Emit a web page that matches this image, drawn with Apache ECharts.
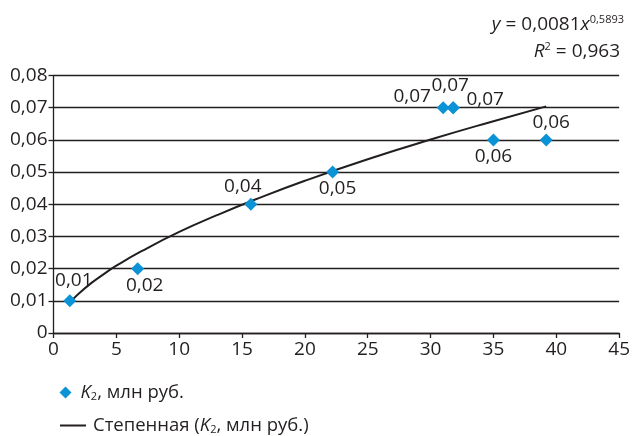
<!DOCTYPE html>
<html>
<head>
<meta charset="utf-8">
<script src="https://cdn.jsdelivr.net/npm/echarts@6/dist/echarts.min.js"></script>
<style>
    html, body { margin: 0; padding: 0; background: #fff; }
    #chart { width: 633px; height: 436px; }
</style>
</head>
<body>
<div id="chart"></div>
<script>
// points K2, mln rub (x) vs coefficient (y)
var pointX = [1.3, 6.7, 15.7, 22.2, 31.0, 31.8, 31.8, 35.0, 39.2];
var pointY = [0.01, 0.02, 0.04, 0.05, 0.07, 0.07, 0.07, 0.06, 0.06];
// trend curve
var trendX = [1.3, 2, 3, 4, 5, 7, 10, 13, 16, 20, 25, 30, 35, 39.2];
var trendY = [0.0095, 0.0122, 0.0155, 0.0183, 0.0209, 0.0254, 0.0314, 0.0366, 0.0414, 0.0473, 0.0540, 0.0601, 0.0658, 0.0704];
var xTicks = [0, 5, 10, 15, 20, 25, 30, 35, 40, 45];
var yTicks = [0, 0.01, 0.02, 0.03, 0.04, 0.05, 0.06, 0.07, 0.08];

// label placement for each point (offset from the marker centre)
var labelShift = [[4, -20], [7, 17], [-8, -18], [5, 17], [-31, -11], [-3, -22], [32, -8], [0, 17], [5, -17]];

var font = '"Open Sans", "Noto Sans", sans-serif';
var ink = '#231f20';
var blue = '#0b93d6';
var nameScatter = 'K2, млн руб.';
var nameTrend = 'Степенная (K2, млн руб.)';

function comma(v) {
    return v === 0 ? '0' : v.toFixed(2).replace('.', ',');
}

var scatterData = [], trendData = [], i;
for (i = 0; i < pointX.length; i++) {
    scatterData.push({
        value: [pointX[i], pointY[i]],
        label: { offset: labelShift[i] }
    });
}
for (i = 0; i < trendX.length; i++) {
    trendData.push([trendX[i], trendY[i]]);
}

function richName(lead) {
    return {
        i: { fontStyle: 'italic', fontSize: 18.5, color: ink, fontFamily: font, padding: [0, 0, 0, lead] },
        s: { fontSize: 11, color: ink, fontFamily: font, padding: [9, 0, 0, 0] },
        n: { fontSize: 18.5, color: ink, fontFamily: font }
    };
}

function legendText(name) {
    if (name === nameScatter) {
        return '{i|K}{s|2}{n|, млн руб.}';
    }
    return '{n|Степенная (}{i|K}{s|2}{n|, млн руб.)}';
}

var myChart = echarts.init(document.getElementById('chart'), null, { renderer: 'canvas' });

var option = {
    backgroundColor: '#fff',
    animation: false,
    textStyle: { fontFamily: font, color: ink },
    grid: { left: 53.5, right: 13, top: 75.5, bottom: 103 },
    xAxis: {
        type: 'value',
        min: xTicks[0],
        max: xTicks[xTicks.length - 1],
        interval: 5,
        axisLine: { lineStyle: { color: ink, width: 1.3 } },
        axisTick: { show: true, length: 5, lineStyle: { color: ink, width: 1.3 } },
        axisLabel: { fontSize: 19, color: ink, fontFamily: font, margin: 7 },
        splitLine: { show: false }
    },
    yAxis: {
        type: 'value',
        min: yTicks[0],
        max: yTicks[yTicks.length - 1],
        interval: 0.01,
        axisLine: { show: true, lineStyle: { color: ink, width: 1.3 } },
        axisTick: { show: true, length: 5, lineStyle: { color: ink, width: 1.3 } },
        axisLabel: {
            fontSize: 19, color: ink, fontFamily: font, margin: 6,
            formatter: function (v) { return comma(v); }
        },
        splitLine: { lineStyle: { color: ink, width: 1.3 } }
    },
    legend: [
        {
            data: [{ name: nameScatter, icon: 'diamond' }],
            left: 54.5,
            top: 378,
            itemWidth: 12,
            itemHeight: 12,
            formatter: legendText,
            textStyle: { rich: richName(4) }
        },
        {
            data: [{ name: nameTrend, icon: 'path://M0,0H26V2H0Z', itemStyle: { color: ink } }],
            left: 55,
            top: 411,
            itemWidth: 26,
            itemHeight: 2,
            formatter: legendText,
            textStyle: { rich: richName(0), padding: [0, 0, 0, 2] }
        }
    ],
    graphic: [
        {
            type: 'text',
            right: 9,
            top: 14,
            style: {
                text: '{i|y}{n| = 0,0081}{i|x}{p|0,5893}',
                rich: {
                    i: { fontStyle: 'italic', fontSize: 19, fontFamily: font, fill: ink },
                    n: { fontSize: 19, fontFamily: font, fill: ink },
                    p: { fontSize: 11, fontFamily: font, fill: ink, padding: [0, 0, 10, 0] }
                }
            }
        },
        {
            type: 'text',
            right: 13,
            top: 41,
            style: {
                text: '{i|R}{p|2}{n| = 0,963}',
                rich: {
                    i: { fontStyle: 'italic', fontSize: 19, fontFamily: font, fill: ink },
                    n: { fontSize: 19, fontFamily: font, fill: ink },
                    p: { fontSize: 11, fontFamily: font, fill: ink, padding: [0, 0, 10, 0] }
                }
            }
        }
    ],
    series: [
        {
            name: nameTrend,
            type: 'line',
            data: trendData,
            smooth: true,
            symbol: 'none',
            lineStyle: { color: ink, width: 2 },
            itemStyle: { color: ink },
            z: 2
        },
        {
            name: nameScatter,
            type: 'scatter',
            data: scatterData,
            symbol: 'diamond',
            symbolSize: 13,
            itemStyle: { color: blue, opacity: 1 },
            label: {
                show: true,
                position: 'inside',
                fontSize: 19,
                color: ink,
                textBorderWidth: 0,
                opacity: 1,
                fontFamily: font,
                formatter: function (p) { return comma(p.value[1]); }
            },
            z: 3
        }
    ]
};

myChart.setOption(option);
</script>
</body>
</html>
